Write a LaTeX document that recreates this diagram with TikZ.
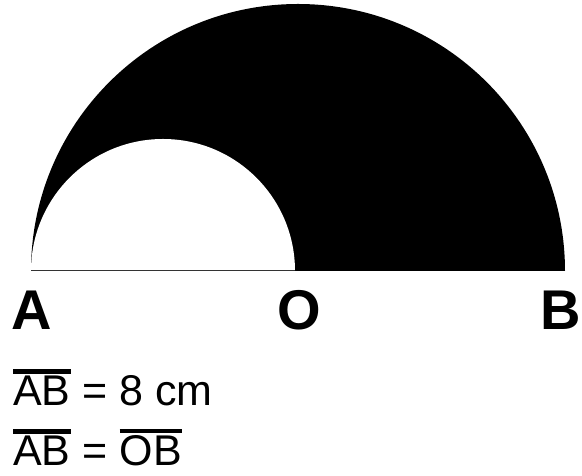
\documentclass[tikz,border=0pt]{standalone}
\usepackage{fontspec}
\setmainfont{Liberation Sans}
\usetikzlibrary{positioning}
\newcommand{\segbar}[1]{\vbox{\hrule height 4.5pt\kern 2.5pt\hbox{#1}}}
\tikzset{
pointlabel/.style={
font=\fontsize{56}{60}\selectfont\bfseries,
inner sep=0pt,
text depth=0pt,
anchor=base
},
givenlabel/.style={
font=\fontsize{43}{47}\selectfont,
inner sep=0pt,
text depth=0pt,
anchor=base west
}
}
\begin{document}
\begin{tikzpicture}[x=1pt,y=1pt]

\useasboundingbox (0,0) rectangle (582,476);

\coordinate (a) at (31,205);
\coordinate (o) at (295,205);
\coordinate (b) at (565,205);

% shaded region
\fill[black] (a) arc[start angle=180, end angle=0, radius=267pt] -- cycle;
\fill[white] (a) arc[start angle=180, end angle=0, radius=132pt] -- cycle;
\draw[line width=1pt, black!80] (a) -- (o);

\node[pointlabel] (A) at (32,146) {A};
\node[pointlabel] (O) at (299,146) {O};
\node[pointlabel] (B) at (561,146) {B};

\node[givenlabel] (len) at (13,70) {\segbar{AB} = 8 cm};
\node[givenlabel] (eq) at (13,10) {\segbar{AB} = \segbar{OB}};

\end{tikzpicture}
\end{document}
